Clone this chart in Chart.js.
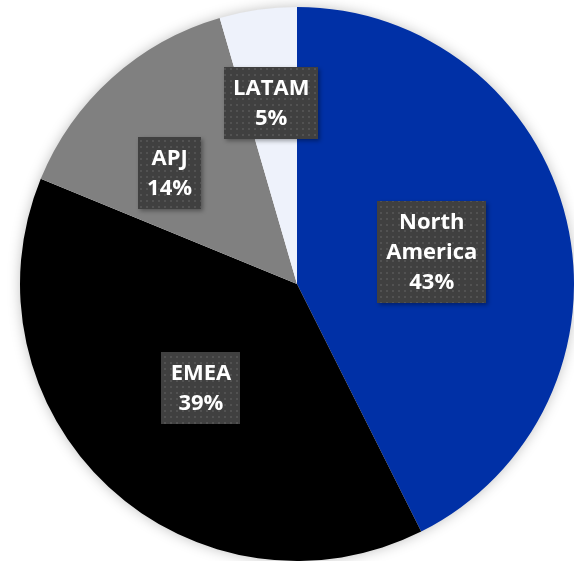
<!DOCTYPE html>
<html>
<head>
<meta charset="utf-8">
<script src="https://cdn.jsdelivr.net/npm/chart.js@4.4.1/dist/chart.umd.min.js"></script>
<style>
  html, body { margin: 0; padding: 0; background: #ffffff; }
  #wrap { width: 574px; height: 561px; }
</style>
</head>
<body>
<div id="wrap"><canvas id="regionChart"></canvas></div>
<script>
const regions = ["North America", "EMEA", "APJ", "LATAM"];
const shares = [42.6, 38.6, 14.3, 4.5];
const shareLabels = ["43%", "39%", "14%", "5%"];
const sliceColors = ["#0030a6", "#000000", "#808080", "#eef2fb"];

// label placement: fraction of radius, and a small angle nudge (degrees)
const labelRadius = [0.5, 0.51, 0.61, 0.66];
const labelNudge = [0, 0, -7, 0];
const labelLines = [["North", "America"], ["EMEA"], ["APJ"], ["LATAM"]];

// dotted fill for the label boxes
const dots = document.createElement('canvas');
dots.width = 6;
dots.height = 6;
const dctx = dots.getContext('2d');
dctx.fillStyle = '#404040';
dctx.fillRect(0, 0, 6, 6);
dctx.fillStyle = '#525252';
dctx.fillRect(2, 2, 2, 2);

const pieShadow = {
  id: 'pieShadow',
  beforeDatasetsDraw(chart) {
    const arc = chart.getDatasetMeta(0).data[0];
    const ctx = chart.ctx;
    ctx.save();
    ctx.shadowColor = 'rgba(0,0,0,0.28)';
    ctx.shadowBlur = 14;
    ctx.fillStyle = '#ffffff';
    ctx.beginPath();
    ctx.arc(arc.x, arc.y, arc.outerRadius - 1, 0, Math.PI * 2);
    ctx.fill();
    ctx.restore();
  }
};

const boxLabels = {
  id: 'boxLabels',
  afterDatasetsDraw(chart) {
    const ctx = chart.ctx;
    const pattern = ctx.createPattern(dots, 'repeat');
    chart.getDatasetMeta(0).data.forEach((arc, i) => {
      const mid = (arc.startAngle + arc.endAngle) / 2 + labelNudge[i] * Math.PI / 180;
      const r = arc.outerRadius * labelRadius[i];
      const cx = arc.x + Math.cos(mid) * r;
      const cy = arc.y + Math.sin(mid) * r;
      const lines = labelLines[i].concat([shareLabels[i]]);
      ctx.save();
      ctx.font = 'bold 22px "Open Sans"';
      let w = 0;
      lines.forEach(l => { w = Math.max(w, ctx.measureText(l).width); });
      const lh = 30;
      const bw = Math.round(w + 18);
      const bh = lines.length * lh + 12;
      const bx = Math.round(cx - bw / 2);
      const by = Math.round(cy - bh / 2);
      ctx.shadowColor = 'rgba(0,0,0,0.35)';
      ctx.shadowBlur = 4;
      ctx.shadowOffsetX = 2;
      ctx.shadowOffsetY = 2;
      ctx.fillStyle = pattern;
      ctx.fillRect(bx, by, bw, bh);
      ctx.shadowColor = 'transparent';
      ctx.fillStyle = '#ffffff';
      ctx.textAlign = 'center';
      ctx.textBaseline = 'middle';
      lines.forEach((l, k) => {
        ctx.fillText(l, cx, by + 6 + lh * k + lh / 2 + 1);
      });
      ctx.restore();
    });
  }
};

new Chart("regionChart", {
  type: "pie",
  data: {
    labels: regions,
    datasets: [{
      data: shares,
      backgroundColor: sliceColors,
      borderWidth: 0
    }]
  },
  options: {
    responsive: true,
    maintainAspectRatio: false,
    animation: false,
    layout: { padding: { left: 20, right: 0, top: 7, bottom: 0 } },
    plugins: {
      legend: { display: false },
      tooltip: { enabled: false }
    }
  },
  plugins: [pieShadow, boxLabels]
});
</script>
</body>
</html>
